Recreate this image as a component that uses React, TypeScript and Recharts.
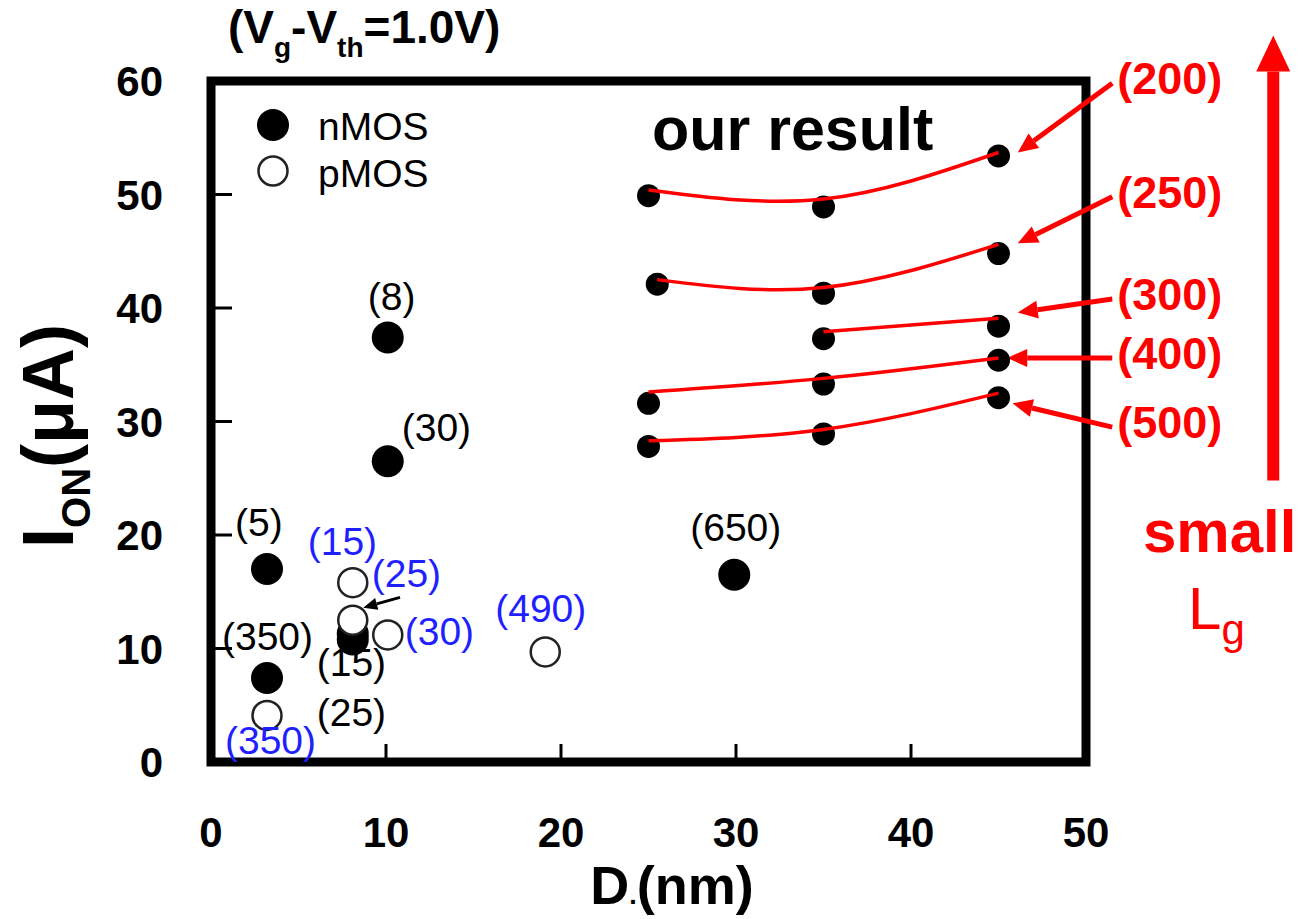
import React from 'react';
import {
    ScatterChart,
    Scatter,
    XAxis,
    YAxis,
    ReferenceArea,
    ReferenceLine
} from 'recharts';

const FONT = '"Liberation Sans", Arial, Helvetica, sans-serif';
const RED = '#ff0000';
const BLUE = '#1f1fff';

const xTicks = [0, 10, 20, 30, 40, 50];
const yTicks = [0, 10, 20, 30, 40, 50, 60];

// other groups' devices, label = Lg in nm
const nmosRefs = [
    { x: 3.2, y: 17.0, label: '(5)' },
    { x: 3.2, y: 7.4, label: '(350)' },
    { x: 8.1, y: 11.3, label: '(25)' },
    { x: 8.1, y: 10.8, label: '(15)' },
    { x: 10.1, y: 37.4, label: '(8)' },
    { x: 10.1, y: 26.5, label: '(30)' },
    { x: 29.9, y: 16.5, label: '(650)' }
];

const pmosRefs = [
    { x: 8.1, y: 15.8, label: '(15)' },
    { x: 8.1, y: 12.5, label: '(25)' },
    { x: 10.1, y: 11.2, label: '(30)' },
    { x: 19.1, y: 9.7, label: '(490)' },
    { x: 3.2, y: 4.1, label: '(350)' }
];

// our result (nMOS), rows = Lg 200/250/300/400/500 nm
const ourResult = [
    { x: 25, y: 49.9 }, { x: 35, y: 48.9 }, { x: 45, y: 53.4 },
    { x: 25.5, y: 42.1 }, { x: 35, y: 41.3 }, { x: 45, y: 44.8 },
    { x: 35, y: 37.3 }, { x: 45, y: 38.4 },
    { x: 25, y: 31.6 }, { x: 35, y: 33.3 }, { x: 45, y: 35.4 },
    { x: 25, y: 27.8 }, { x: 35, y: 28.9 }, { x: 45, y: 32.1 }
];

// hand-drawn trend curves
const fit200 = [{ x: 25, y: 50.4 }, { x: 35, y: 49.6 }, { x: 45, y: 53.7 }];
const fit250 = [{ x: 25.5, y: 42.5 }, { x: 35, y: 41.8 }, { x: 45, y: 45.6 }];
const fit300 = [{ x: 35, y: 37.9 }, { x: 45, y: 39.1 }];
const fit400 = [{ x: 25, y: 32.6 }, { x: 35, y: 33.8 }, { x: 45, y: 35.6 }];
const fit500 = [{ x: 25, y: 28.3 }, { x: 35, y: 29.3 }, { x: 45, y: 32.5 }];
const fits = [fit200, fit250, fit300, fit400, fit500];

// Lg call-outs on the right: label, tail, head (data units)
const callouts = [
    { label: '(200)', from: { x: 51.5, y: 59.8 }, to: { x: 46.1, y: 53.7 } },
    { label: '(250)', from: { x: 51.5, y: 49.8 }, to: { x: 46.1, y: 45.7 } },
    { label: '(300)', from: { x: 51.5, y: 40.8 }, to: { x: 46.1, y: 39.6 } },
    { label: '(400)', from: { x: 51.5, y: 35.6 }, to: { x: 45.5, y: 35.6 } },
    { label: '(500)', from: { x: 51.5, y: 29.5 }, to: { x: 45.8, y: 31.6 } }
];

const bigArrow = { from: { x: 60.7, y: 24.8 }, to: { x: 60.7, y: 64.0 } };
const smallArrow = { from: { x: 10.8, y: 14.5 }, to: { x: 8.7, y: 13.6 } };

// label offsets in px from the marker centre
const nmosLabelPos: Record<string, [number, number]> = {
    '(5)': [-32, -33],
    '(350)': [-45, -28],
    '(15)': [-36, 37],
    '(25)': [-36, 92],
    '(8)': [-20, -28],
    '(30)': [14, -20],
    '(650)': [-44, -34]
};
const pmosLabelPos: Record<string, [number, number]> = {
    '(15)': [-45, -28],
    '(25)': [19, -33],
    '(30)': [17, 10],
    '(490)': [-50, -30],
    '(350)': [-42, 39]
};

const labelStyle = { fontFamily: FONT, fontSize: 39 };

const NmosDot = (props: any) => {
    const { cx, cy, payload } = props;
    const [dx, dy] = nmosLabelPos[payload.label] || [0, 0];
    return (
        <g>
            <circle cx={cx} cy={cy} r={16} fill="#000" />
            <text x={cx + dx} y={cy + dy} fill="#000" style={labelStyle}>{payload.label}</text>
        </g>
    );
};

const PmosDot = (props: any) => {
    const { cx, cy, payload } = props;
    const [dx, dy] = pmosLabelPos[payload.label] || [0, 0];
    return (
        <g>
            <circle cx={cx} cy={cy} r={14.5} fill="#fff" stroke="#222" strokeWidth={2.5} />
            <text x={cx + dx} y={cy + dy} fill={BLUE} style={labelStyle}>{payload.label}</text>
        </g>
    );
};

const OurDot = (props: any) => <circle cx={props.cx} cy={props.cy} r={11.5} fill="#000" />;

const arrowShape = (color: string, width: number, headLen: number, headHalf: number, label?: string) =>
    (props: any) => {
        const { x1, y1, x2, y2 } = props;
        const ang = Math.atan2(y2 - y1, x2 - x1);
        const bx = x2 - headLen * Math.cos(ang);
        const by = y2 - headLen * Math.sin(ang);
        const px = -Math.sin(ang) * headHalf;
        const py = Math.cos(ang) * headHalf;
        return (
            <g>
                <line x1={x1} y1={y1} x2={bx} y2={by} stroke={color} strokeWidth={width} />
                <polygon points={`${x2},${y2} ${bx + px},${by + py} ${bx - px},${by - py}`} fill={color} />
                {label && (
                    <text x={x1 + 5} y={y1 + 11} fill={color}
                        style={{ fontFamily: FONT, fontSize: 45, fontWeight: 'bold' }}>
                        {label}
                    </text>
                )}
            </g>
        );
    };

const XTick = (props: any) => {
    const { x, y, payload } = props;
    const frame = y - 40;
    return (
        <g>
            {payload.value > 0 && payload.value < 50 && (
                <line x1={x} x2={x} y1={frame} y2={frame - 18} stroke="#000" strokeWidth={3} />
            )}
            <text x={x} y={y + 45} textAnchor="middle" fill="#000"
                style={{ fontFamily: FONT, fontSize: 42, fontWeight: 'bold' }}>
                {payload.value}
            </text>
        </g>
    );
};

const YTick = (props: any) => {
    const { x, y, payload } = props;
    const frame = x + 48;
    return (
        <g>
            {payload.value > 0 && payload.value < 60 && (
                <line x1={frame} x2={frame + 21} y1={y} y2={y} stroke="#000" strokeWidth={3} />
            )}
            <text x={x} y={y + 15} textAnchor="end" fill="#000"
                style={{ fontFamily: FONT, fontSize: 42, fontWeight: 'bold' }}>
                {payload.value}
            </text>
        </g>
    );
};

const App: React.FC = () => {
    return (
        <div style={{ position: 'absolute', left: 0, top: 0, width: 1303, height: 919, background: '#fff', overflow: 'hidden' }}>
            <ScatterChart
                width={1303}
                height={919}
                margin={{ top: 81, right: 217, bottom: 117, left: 151 }}
            >
                <XAxis
                    type="number"
                    dataKey="x"
                    domain={[0, 50]}
                    ticks={xTicks}
                    allowDataOverflow
                    height={40}
                    axisLine={false}
                    tickLine={false}
                    tickSize={0}
                    tickMargin={40}
                    tick={<XTick />}
                />
                <YAxis
                    type="number"
                    dataKey="y"
                    domain={[0, 60]}
                    ticks={yTicks}
                    allowDataOverflow
                    width={60}
                    axisLine={false}
                    tickLine={false}
                    tickSize={0}
                    tickMargin={48}
                    tick={<YTick />}
                />
                <ReferenceArea x1={0} x2={50} y1={0} y2={60} fill="none" fillOpacity={0} stroke="#000" strokeWidth={9} ifOverflow="visible" />

                <Scatter data={nmosRefs} shape={NmosDot} isAnimationActive={false} />
                <Scatter data={pmosRefs} shape={PmosDot} isAnimationActive={false} />
                <Scatter data={ourResult} shape={OurDot} isAnimationActive={false} />
                {fits.map((f, i) => (
                    <Scatter
                        key={`fit-${i}`}
                        data={f}
                        shape={() => <g />}
                        line={{ stroke: RED, strokeWidth: 3.5 }}
                        lineType="joint"
                        lineJointType="natural"
                        isAnimationActive={false}
                    />
                ))}

                {callouts.map((c) => (
                    <ReferenceLine
                        key={c.label}
                        segment={[c.from, c.to]}
                        ifOverflow="visible"
                        shape={arrowShape(RED, 5, 20, 9, c.label)}
                    />
                ))}
                <ReferenceLine segment={[bigArrow.from, bigArrow.to]} ifOverflow="visible" shape={arrowShape(RED, 12, 36, 17)} />
                <ReferenceLine segment={[smallArrow.from, smallArrow.to]} ifOverflow="visible" shape={arrowShape('#000', 3, 14, 6)} />
            </ScatterChart>

            <svg width={1303} height={919} style={{ position: 'absolute', left: 0, top: 0, pointerEvents: 'none' }}>
                <text x={228} y={43} fill="#000" style={{ fontFamily: FONT, fontSize: 46, fontWeight: 'bold' }}>
                    (V<tspan fontSize={28} dy={14}>g</tspan>
                    <tspan dy={-14}>-V</tspan>
                    <tspan fontSize={28} dy={14}>th</tspan>
                    <tspan dy={-14}>=1.0V)</tspan>
                </text>

                <circle cx={273} cy={125} r={16} fill="#000" />
                <text x={318} y={140} style={{ fontFamily: FONT, fontSize: 39 }}>nMOS</text>
                <circle cx={273} cy={171} r={14.5} fill="#fff" stroke="#222" strokeWidth={2.5} />
                <text x={318} y={187} style={{ fontFamily: FONT, fontSize: 39 }}>pMOS</text>

                <text x={652} y={150} style={{ fontFamily: FONT, fontSize: 61, fontWeight: 'bold' }}>our result</text>

                <text x={1143} y={552} fill={RED} style={{ fontFamily: FONT, fontSize: 60, fontWeight: 'bold' }}>small</text>
                <text x={1188} y={629} fill={RED} style={{ fontFamily: FONT, fontSize: 60 }}>
                    L<tspan fontSize={42} dy={15}>g</tspan>
                </text>

                <g transform="translate(73, 436) rotate(-90)">
                    <text x={0} y={0} textAnchor="middle" style={{ fontFamily: FONT, fontSize: 72, fontWeight: 'bold' }}>
                        I<tspan fontSize={40} dy={17}>ON</tspan>
                        <tspan dy={-17}>(μA)</tspan>
                    </text>
                </g>

                <text x={672} y={904} textAnchor="middle" style={{ fontFamily: FONT, fontSize: 54, fontWeight: 'bold' }}>
                    D<tspan fontSize={27}>.</tspan>(nm)
                </text>
            </svg>
        </div>
    );
};

export default App;
